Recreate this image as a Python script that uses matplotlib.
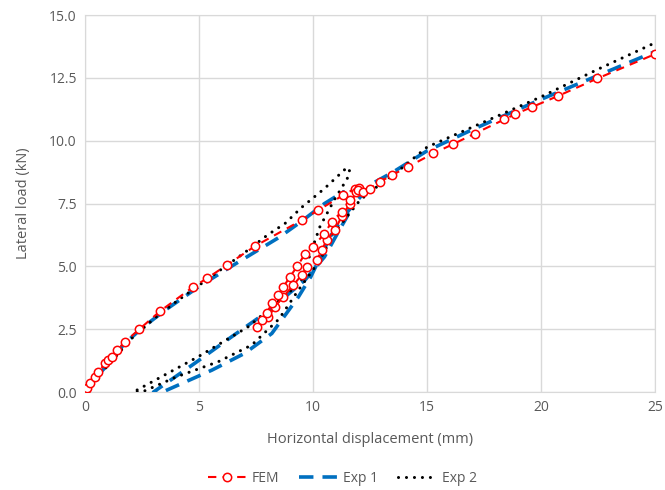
import matplotlib.pyplot as plt

# ==========================
# Data
# ==========================
# FEM (load, unload, reload)
fem_x = [0, 0.07, 0.22, 0.44, 0.58, 0.88, 1.02, 1.17, 1.39, 1.75, 2.38, 3.29, 4.75, 5.34,
         6.21, 7.46, 9.5, 10.23, 11.33, 11.84, 12.0,
         11.9, 11.62, 11.26, 10.96, 10.6, 10.38, 10.16, 9.72, 9.5, 9.14, 8.7, 8.33, 8.04, 7.53,
         7.75, 7.97, 8.19, 8.48, 8.7, 8.99, 9.3, 9.65, 10.0, 10.5, 10.82, 11.26, 11.62, 11.95,
         12.2, 12.5, 12.94, 13.45, 14.18, 15.28, 16.15, 17.1, 18.39, 18.86, 19.62, 20.76,
         22.47, 25.0]
fem_y = [0, 0.15, 0.35, 0.61, 0.81, 1.14, 1.27, 1.4, 1.67, 2.0, 2.5, 3.22, 4.19, 4.52,
         5.05, 5.81, 6.84, 7.24, 7.84, 8.1, 8.12,
         7.95, 7.5, 7.0, 6.45, 6.05, 5.65, 5.25, 4.98, 4.66, 4.26, 3.8, 3.4, 3.0, 2.6,
         2.87, 3.13, 3.53, 3.86, 4.19, 4.59, 5.0, 5.5, 5.79, 6.3, 6.78, 7.18, 7.64, 8.05,
         7.97, 8.1, 8.37, 8.63, 8.97, 9.5, 9.87, 10.29, 10.85, 11.06, 11.35, 11.79,
         12.48, 13.45]

# Exp 1
exp1_x = [0, 0.5, 1.0, 1.7, 2.5, 3.5, 5.0, 6.5, 7.5, 8.5, 9.5, 10.5, 11.33,
          11.6, 11.5, 11.0, 10.5, 9.65, 8.0, 6.43, 4.82, 3.0,
          3.4, 5.56, 7.0, 8.19, 9.36, 9.9, 10.75, 11.33, 12.2, 12.6,
          13.5, 15.0, 17.0, 20.0, 22.5, 25.0]
exp1_y = [0, 0.6, 1.1, 1.9, 2.55, 3.25, 4.2, 5.05, 5.6, 6.15, 6.8, 7.5, 7.97,
          7.6, 7.0, 6.2, 5.38, 4.46, 3.2, 2.2, 1.15, 0.0,
          0.0, 0.87, 1.54, 2.33, 3.79, 4.59, 6.18, 6.98, 7.9, 8.3,
          8.75, 9.6, 10.45, 11.65, 12.6, 13.55]

# Exp 2
exp2_x = [0, 0.5, 1.0, 2.0, 3.0, 4.0, 5.0, 6.0, 7.0, 8.0, 8.77, 9.5, 10.5, 11.5,
          11.6, 11.5, 11.3, 10.9, 10.3, 9.43, 7.16, 4.97, 2.12,
          2.5, 4.0, 5.85, 7.31, 8.5, 9.36, 10.3, 10.9, 11.48, 12.06, 12.8, 13.7,
          15.0, 17.5, 20.0, 22.5, 25.0]
exp2_y = [0, 0.55, 1.05, 2.1, 2.9, 3.6, 4.25, 4.9, 5.55, 6.25, 6.71, 7.35, 8.1, 8.95,
          8.8, 8.5, 8.2, 7.6, 6.58, 4.34, 2.6, 1.41, 0.0,
          0.0, 0.6, 1.21, 1.87, 2.9, 4.06, 5.25, 6.3, 6.97, 7.64, 8.17, 8.77,
          9.75, 10.75, 11.75, 12.85, 13.9]

x_ticks = [0, 5, 10, 15, 20, 25]
y_ticks = [0.0, 2.5, 5.0, 7.5, 10.0, 12.5, 15.0]

# ==========================
# Plot
# ==========================
plt.rcParams["font.family"] = ["Open Sans", "DejaVu Sans"]
grey = "#595959"

fig = plt.figure(figsize=(6.65, 4.9), dpi=100)
ax = fig.add_axes([0.128, 0.2, 0.857, 0.769])

ax.plot(fem_x, fem_y, color="red", lw=1.5, dashes=(4, 3), marker="o",
        markersize=6, markerfacecolor="white", markeredgecolor="red",
        markeredgewidth=1.1, label="FEM", zorder=4)
ax.plot(exp1_x, exp1_y, color="#0070C0", lw=2.6, dashes=(4, 2.5),
        label="Exp 1", zorder=3)
ax.plot(exp2_x, exp2_y, color="black", lw=2.2, dashes=(0.01, 2.6),
        dash_capstyle="round", label="Exp 2", zorder=3)

ax.set_xlim(0, 25)
ax.set_ylim(0, 15)
ax.set_xticks(x_ticks)
ax.set_yticks(y_ticks)
ax.set_yticklabels([f"{v:.1f}" for v in y_ticks])
ax.grid(True, color="#D9D9D9", lw=1)
ax.set_axisbelow(True)
for s in ax.spines.values():
    s.set_color("#D9D9D9")
ax.tick_params(length=0, colors=grey, labelsize=10, pad=6)

ax.set_xlabel("Horizontal displacement (mm)", color=grey, fontsize=10.5, labelpad=12)
ax.set_ylabel("Lateral load (kN)", color=grey, fontsize=10.5, labelpad=13)

leg = fig.legend(loc="lower center", ncol=3, frameon=False, fontsize=10,
                 bbox_to_anchor=(0.515, -0.018), handlelength=2.8,
                 handletextpad=0.4, columnspacing=1.4)
for t in leg.get_texts():
    t.set_color(grey)

fig.savefig("out.png", dpi=100)
